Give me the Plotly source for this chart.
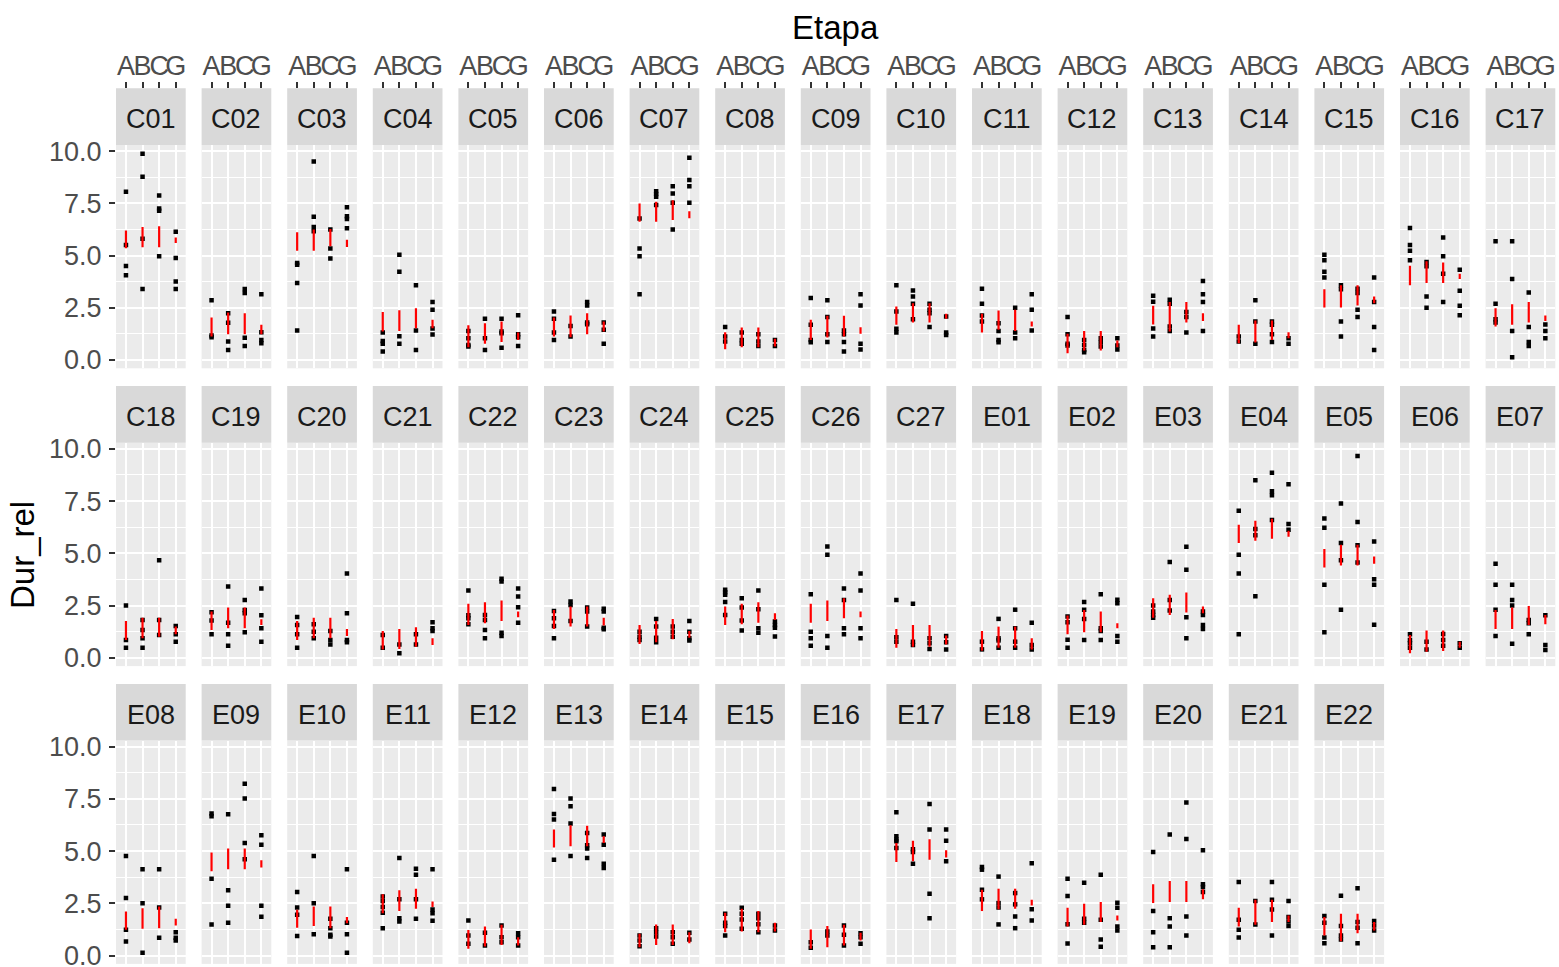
import plotly.graph_objects as go

W, H = 1559, 967

# ---- data -------------------------------------------------------------
panels = ["C01", "C02", "C03", "C04", "C05", "C06", "C07", "C08", "C09", "C10",
          "C11", "C12", "C13", "C14", "C15", "C16", "C17", "C18", "C19", "C20",
          "C21", "C22", "C23", "C24", "C25", "C26", "C27",
          "E01", "E02", "E03", "E04", "E05", "E06", "E07", "E08", "E09", "E10",
          "E11", "E12", "E13", "E14", "E15", "E16", "E17", "E18", "E19", "E20",
          "E21", "E22"]
etapas = ["A", "B", "C", "G"]
y_ticks = [0.0, 2.5, 5.0, 7.5, 10.0]
y_tick_text = ["0.0", "2.5", "5.0", "7.5", "10.0"]

# observed Dur_rel per panel, one list per Etapa
pts_A = [
    [8.05, 5.5, 4.5, 4.05], [2.86, 1.17, 1.09], [4.64, 4.56, 3.68, 1.41], [1.31, 0.91, 0.77, 0.4],
    [1.39, 1.04, 0.72, 0.64], [2.32, 1.97, 1.31, 0.96], [6.77, 5.33, 4.96, 3.15], [1.58, 1.12, 0.88],
    [2.96, 1.68, 0.96, 0.85], [3.58, 2.32, 1.49, 1.31], [3.41, 2.69, 2.13, 1.84], [2.05, 1.23, 0.77, 0.69],
    [3.07, 2.78, 1.5, 1.12], [1.12, 0.88], [5.04, 4.77, 4.22, 3.95], [6.32, 5.5, 5.23, 4.77],
    [5.68, 2.69, 1.95, 1.79], [2.5, 0.85, 0.48], [2.18, 1.78, 1.12], [1.95, 1.57, 1.12, 0.48],
    [1.09, 0.48], [3.22, 2.03, 1.89, 1.6], [2.24, 1.89, 1.52, 0.93], [1.25, 1.01, 0.85],
    [3.25, 3.14, 3.01, 2.67, 2.05], [3.04, 1.25, 0.93, 0.58], [2.77, 0.98, 0.77],
    [0.77, 0.4], [1.97, 1.7, 0.86, 0.48], [2.5, 2.21, 2.05, 1.92], [7.04, 4.93, 4.03, 1.12],
    [6.67, 6.22, 3.49, 1.22], [1.12, 0.85, 0.69, 0.48], [4.5, 3.49, 2.3, 1.04], [4.77, 2.75, 1.23, 0.67],
    [6.8, 6.67, 3.68, 1.49], [3.04, 2.3, 1.95, 0.93], [2.83, 2.61, 2.32, 2.05, 1.31], [1.68, 0.96, 0.56],
    [7.97, 6.78, 6.51, 4.59], [0.96, 0.72, 0.45], [2.0, 1.57, 1.41, 0.96], [0.64, 0.37],
    [6.86, 5.71, 5.55, 5.47, 5.15], [4.24, 4.11, 3.15, 2.69], [3.68, 2.85, 1.5, 0.58],
    [4.96, 2.13, 1.12, 0.4], [3.52, 1.71, 1.23, 0.86], [1.89, 1.57, 0.86, 0.59],
]
pts_B = [
    [9.87, 8.77, 5.8, 3.4], [2.24, 1.78, 0.88, 0.48], [9.5, 6.85, 6.37, 6.16], [5.04, 4.22, 1.14, 0.77],
    [1.97, 1.04, 0.48], [1.63, 1.12], [8.08, 7.95, 7.81, 7.42], [1.31, 0.96, 0.77],
    [2.86, 2.06, 1.23, 0.86], [3.33, 3.04, 2.69, 1.95], [1.76, 1.39, 0.96, 0.85], [0.96, 0.72, 0.48, 0.37],
    [2.88, 2.69, 1.6, 1.39], [2.86, 1.84, 0.77], [3.58, 3.39, 1.84, 1.12], [4.69, 4.48, 3.04, 2.5],
    [5.68, 3.87, 1.39, 0.13], [1.81, 1.33, 0.93, 0.48], [3.41, 1.68, 1.12, 0.58], [1.6, 1.25, 0.93],
    [0.64, 0.21], [2.05, 1.81, 1.33, 0.93], [2.69, 2.53, 1.76], [1.86, 1.49, 0.96, 0.74],
    [2.85, 2.4, 1.78, 1.3], [5.33, 4.93, 1.04, 0.48], [2.58, 0.77, 0.61],
    [1.86, 0.93, 0.83, 0.48], [2.67, 2.3, 1.86, 0.85], [4.58, 2.77, 2.26], [8.5, 6.16, 5.86, 2.94],
    [7.39, 5.49, 4.67, 2.3], [0.77, 0.4], [3.49, 2.77, 2.5, 0.67], [4.13, 2.5, 0.13],
    [6.77, 3.12, 2.38, 1.57], [4.77, 2.5, 1.02], [4.67, 2.69, 1.79, 1.63], [1.09, 0.48],
    [7.52, 7.15, 6.32, 4.77], [1.31, 1.12, 0.91], [2.29, 2.0, 1.73, 1.28], [1.15, 0.96],
    [5.09, 4.96, 4.4], [3.78, 2.51, 2.3, 1.49], [3.49, 1.76, 1.57],
    [5.79, 1.79, 1.39, 0.4], [2.61, 1.49], [2.86, 1.41, 0.96, 0.77],
]
pts_C = [
    [7.87, 7.25, 7.14, 4.96], [3.4, 3.2, 1.06, 0.67], [6.24, 5.34, 4.86], [3.58, 1.41, 0.48],
    [1.97, 1.36, 1.28, 0.58], [2.77, 2.61, 1.79, 1.71], [8.32, 7.97, 7.52, 6.24], [1.23, 0.88, 0.67],
    [1.41, 1.23, 0.86, 0.4], [2.69, 2.4, 2.24, 1.58], [2.5, 1.31, 1.04], [1.04, 0.85, 0.64],
    [2.3, 2.05, 1.31], [1.84, 1.68, 1.23, 0.86], [3.41, 3.2, 2.4, 2.05], [5.86, 4.96, 4.13, 2.77],
    [3.23, 1.58, 0.86, 0.67], [4.67, 1.81, 1.09], [2.77, 2.29, 2.13, 1.22], [1.28, 0.85, 0.64],
    [1.12, 0.64], [3.78, 3.65, 1.2, 1.04], [2.4, 2.21, 1.49], [1.49, 1.25, 1.01],
    [3.22, 2.32, 1.41, 1.2], [3.31, 2.77, 1.41, 1.12], [0.93, 0.69, 0.42],
    [2.3, 1.41, 0.77, 0.48], [3.04, 1.41, 1.28, 0.85], [5.31, 4.21, 1.94, 0.93], [8.86, 7.97, 7.78, 6.59],
    [9.66, 6.5, 5.39, 4.56], [1.14, 0.85, 0.58], [1.81, 1.65, 1.12], [4.13, 2.3, 0.85],
    [8.22, 7.52, 5.39, 4.61], [1.76, 1.31, 0.99, 0.91], [4.16, 3.87, 2.69, 1.76], [1.44, 0.88, 0.64],
    [5.87, 5.28, 5.12, 4.67], [1.12, 0.88, 0.56], [2.0, 1.79, 1.5, 1.12], [1.44, 0.99, 0.48],
    [7.25, 6.03, 2.96, 1.79], [2.99, 2.45, 1.87, 1.31], [3.87, 1.71, 0.77, 0.42],
    [7.33, 5.58, 1.87, 0.96], [3.52, 2.67, 2.21, 0.96], [3.22, 1.6, 1.33, 0.59],
]
pts_G = [
    [6.14, 4.88, 3.76, 3.4], [3.15, 1.33, 0.96, 0.8], [7.31, 6.88, 6.75, 6.3], [2.77, 2.4, 1.5, 1.22],
    [2.14, 1.23, 1.09, 0.67], [1.79, 1.44, 0.77], [9.68, 8.61, 8.32, 7.52], [0.96, 0.67],
    [3.15, 2.61, 0.77, 0.5], [2.08, 1.31, 1.2], [3.15, 2.4, 1.41], [1.04, 0.69, 0.5],
    [3.78, 3.15, 2.77, 1.39], [1.04, 0.77], [3.95, 2.77, 1.58, 0.48], [4.32, 3.31, 2.59, 2.14],
    [1.7, 1.39, 1.04], [1.52, 1.12, 0.77], [3.31, 2.03, 1.41, 0.77], [4.03, 2.13, 0.85, 0.74],
    [1.7, 1.41, 1.28], [3.31, 2.93, 2.42, 1.68], [2.34, 2.21, 1.44, 1.36], [1.76, 1.25, 0.93, 0.83],
    [1.73, 1.57, 1.44, 1.02], [4.03, 3.22, 1.41, 0.93], [1.04, 0.74, 0.4],
    [1.68, 0.61, 0.4], [2.78, 2.61, 1.04, 0.77], [2.21, 2.05, 1.57, 1.38], [8.3, 6.4, 6.13],
    [5.57, 3.76, 3.49, 1.58], [0.69, 0.48], [2.03, 0.61, 0.37], [1.12, 0.85, 0.72],
    [5.76, 5.3, 2.38, 1.86], [4.13, 1.57, 1.02, 0.13], [4.13, 2.21, 2.02, 1.66], [1.07, 0.88, 0.48],
    [5.79, 5.31, 4.4, 4.19], [1.09, 0.77], [1.44, 1.2], [1.07, 0.88, 0.56],
    [6.03, 5.5, 4.51], [4.42, 2.22, 1.68], [2.53, 2.29, 1.39, 1.2],
    [5.04, 3.41, 3.28, 3.04], [2.61, 1.84, 1.63, 1.41], [1.65, 1.44, 1.2],
]

# summary range (lower / upper end) per panel, in Etapa order A, B, C, G
seg_lo = [
    [5.35, 5.4, 5.4, 5.6], [1.12, 1.23, 1.23, 1.23], [5.23, 5.23, 5.44, 5.41], [1.36, 1.39, 1.52, 1.52],
    [0.61, 0.77, 0.86, 0.96], [1.12, 1.09, 1.23, 1.36], [6.61, 6.61, 6.7, 6.78], [0.51, 0.61, 0.61, 0.64],
    [0.96, 1.07, 1.12, 1.25], [1.68, 1.79, 1.79, 1.97], [1.31, 1.44, 1.39, 1.6], [0.32, 0.45, 0.45, 0.61],
    [1.7, 1.36, 1.79, 1.87], [0.8, 0.83, 0.96, 1.04], [2.51, 2.51, 2.61, 2.72], [3.58, 3.68, 3.68, 3.87],
    [1.6, 1.68, 1.79, 1.87], [0.85, 0.93, 1.01, 1.12], [1.33, 1.41, 1.41, 1.57], [0.85, 0.93, 0.93, 1.04],
    [0.4, 0.42, 0.53, 0.61], [1.57, 1.65, 1.76, 1.94], [1.38, 1.49, 1.49, 1.54], [0.66, 0.74, 0.88, 0.96],
    [1.57, 1.6, 1.68, 1.81], [1.68, 1.76, 1.89, 1.94], [0.48, 0.53, 0.53, 0.64],
    [0.34, 0.48, 0.48, 0.4], [1.12, 1.22, 1.22, 1.41], [1.92, 2.05, 2.16, 2.13], [5.49, 5.6, 5.7, 5.79],
    [4.32, 4.42, 4.42, 4.5], [0.21, 0.29, 0.32, 0.48], [1.38, 1.38, 1.57, 1.6], [1.23, 1.28, 1.31, 1.44],
    [4.03, 4.13, 4.13, 4.21], [1.33, 1.42, 1.31, 1.55], [2.03, 2.13, 2.24, 2.32], [0.32, 0.43, 0.51, 0.48],
    [5.17, 5.23, 5.23, 5.39], [0.4, 0.51, 0.51, 0.59], [1.12, 1.15, 1.12, 1.15], [0.32, 0.4, 0.48, 0.72],
    [4.48, 4.51, 4.59, 4.69], [2.13, 2.21, 2.24, 2.4], [1.39, 1.47, 1.6, 1.68],
    [2.51, 2.56, 2.56, 2.69], [1.39, 1.47, 1.6, 1.6], [0.96, 0.69, 1.07, 1.2],
]
seg_hi = [
    [6.2, 6.37, 6.4, 5.86], [2.03, 2.27, 2.24, 1.68], [6.11, 6.24, 6.27, 5.76], [2.29, 2.38, 2.48, 1.92],
    [1.66, 1.76, 1.84, 1.31], [2.03, 2.13, 2.24, 1.84], [7.49, 7.57, 7.65, 7.12], [1.33, 1.55, 1.55, 1.01],
    [1.92, 2.11, 2.11, 1.57], [2.56, 2.72, 2.72, 2.21], [2.21, 2.37, 2.4, 1.84], [1.25, 1.39, 1.39, 0.93],
    [2.59, 2.77, 2.77, 2.24], [1.68, 1.89, 1.89, 1.33], [3.39, 3.57, 3.57, 3.04], [4.51, 4.72, 4.67, 4.13],
    [2.48, 2.67, 2.77, 2.13], [1.76, 1.92, 1.92, 1.49], [2.21, 2.4, 2.4, 1.84], [1.76, 1.92, 1.92, 1.38],
    [1.28, 1.38, 1.46, 0.93], [2.58, 2.66, 2.74, 2.21], [2.29, 2.45, 2.45, 1.92], [1.57, 1.76, 1.86, 1.28],
    [2.45, 2.58, 2.66, 2.13], [2.58, 2.74, 2.85, 2.21], [1.38, 1.57, 1.57, 1.06],
    [1.28, 1.49, 1.49, 0.93], [2.02, 2.29, 2.21, 1.65], [2.85, 3.01, 3.12, 2.45], [6.37, 6.56, 6.66, 6.08],
    [5.2, 5.41, 5.41, 4.85], [1.09, 1.3, 1.3, 0.77], [2.29, 2.4, 2.48, 2.05], [2.11, 2.27, 2.35, 1.76],
    [4.93, 5.12, 5.12, 4.56], [2.19, 2.35, 2.35, 1.84], [2.93, 3.12, 3.2, 2.59], [1.22, 1.39, 1.47, 0.88],
    [6.03, 6.24, 6.21, 5.71], [1.04, 1.49, 1.49, 1.12], [2.05, 2.24, 2.13, 1.57], [1.25, 1.41, 1.47, 1.09],
    [5.39, 5.5, 5.57, 5.04], [3.15, 3.2, 3.2, 2.67], [2.29, 2.48, 2.56, 1.92],
    [3.41, 3.57, 3.57, 3.17], [2.29, 2.67, 2.67, 1.92], [1.84, 2.0, 2.0, 1.6],
]

# ---- facet geometry (pixels) ------------------------------------------
NCOL = 17
LEFT = 116.0
PITCH_X = 85.6
PANEL_W = 69.7
STRIP_TOP = 88.3
STRIP_H = 56.7
PANEL_H = 223.3
PITCH_Y = 297.8
Y_RANGE = [-0.40, 10.29]
X_RANGE = [0.4, 4.6]

FONT = "Liberation Sans, Arial, sans-serif"
BG = "#EBEBEB"
STRIP_BG = "#D9D9D9"


def px_x(v):
    return v / W


def px_y(v):
    return 1 - v / H


fig = go.Figure()
layout = dict(
    template="none",
    width=W, height=H, autosize=False,
    margin=dict(l=0, r=0, t=0, b=0, pad=0),
    paper_bgcolor="white", plot_bgcolor=BG,
    showlegend=False,
    font=dict(family=FONT),
)
shapes, annotations = [], []
point_sets = [pts_A, pts_B, pts_C, pts_G]

for k, name in enumerate(panels):
    r, c = divmod(k, NCOL)
    n = k + 1
    xname = "x" if n == 1 else f"x{n}"
    yname = "y" if n == 1 else f"y{n}"
    xkey = "xaxis" if n == 1 else f"xaxis{n}"
    ykey = "yaxis" if n == 1 else f"yaxis{n}"

    x0 = LEFT + c * PITCH_X
    x1 = x0 + PANEL_W
    s_top = STRIP_TOP + r * PITCH_Y
    p_top = s_top + STRIP_H
    p_bot = p_top + PANEL_H

    # individual observations
    xs, ys = [], []
    for j, series in enumerate(point_sets):
        for v in series[k]:
            xs.append(j + 1)
            ys.append(v)
    fig.add_trace(go.Scatter(
        x=xs, y=ys, mode="markers", xaxis=xname, yaxis=yname,
        marker=dict(symbol="square", size=4.5, color="black", line=dict(width=0)),
        hoverinfo="skip",
    ))

    # summary ranges
    sx, sy = [], []
    for j in range(len(etapas)):
        sx += [j + 1, j + 1, None]
        sy += [seg_lo[k][j], seg_hi[k][j], None]
    fig.add_trace(go.Scatter(
        x=sx, y=sy, mode="lines", xaxis=xname, yaxis=yname,
        line=dict(color="#FF0000", width=2.2), hoverinfo="skip",
    ))

    xa = dict(
        domain=[px_x(x0), px_x(x1)], range=X_RANGE, automargin=False,
        tickmode="array", tickvals=[1, 2, 3, 4], ticktext=etapas, tickangle=0,
        showgrid=True, gridcolor="white", gridwidth=2,
        zeroline=False, showline=False, fixedrange=True,
    )
    if r == 0:
        xa.update(anchor="free", position=px_y(s_top), side="top",
                  ticks="outside", ticklen=6, tickwidth=1.5, tickcolor="#333333",
                  showticklabels=True, ticklabelstandoff=-3,
                  ticklabeloverflow="allow",
                  tickfont=dict(size=27, color="#4D4D4D", family=FONT))
    else:
        xa.update(anchor=yname, showticklabels=False, ticks="")
    layout[xkey] = xa

    ya = dict(
        domain=[px_y(p_bot), px_y(p_top)], range=Y_RANGE, anchor=xname, automargin=False,
        tickmode="array", tickvals=y_ticks, ticktext=y_tick_text,
        showgrid=True, gridcolor="white", gridwidth=2,
        minor=dict(tickmode="array", tickvals=[1.25, 3.75, 6.25, 8.75],
                   showgrid=True, gridcolor="white", gridwidth=1.1, ticks=""),
        zeroline=False, showline=False, fixedrange=True,
    )
    if c == 0:
        ya.update(ticks="outside", ticklen=6, tickwidth=1.5, tickcolor="#333333",
                  showticklabels=True, ticklabelstandoff=2,
                  ticklabeloverflow="allow",
                  tickfont=dict(size=27, color="#4D4D4D", family=FONT))
    else:
        ya.update(showticklabels=False, ticks="")
    layout[ykey] = ya

    # facet strip
    shapes.append(dict(
        type="rect", xref="paper", yref="paper",
        x0=px_x(x0), x1=px_x(x1), y0=px_y(p_top), y1=px_y(s_top),
        fillcolor=STRIP_BG, line=dict(width=0), layer="below",
    ))
    annotations.append(dict(
        text=name, xref="paper", yref="paper",
        x=px_x((x0 + x1) / 2), y=px_y(s_top + STRIP_H / 2 + 2.5),
        xanchor="center", yanchor="middle", showarrow=False,
        font=dict(size=27, color="#1A1A1A", family=FONT),
    ))

# axis titles
annotations.append(dict(
    text="Etapa", xref="paper", yref="paper",
    x=px_x(LEFT + (16 * PITCH_X + PANEL_W) / 2), y=px_y(27),
    xanchor="center", yanchor="middle", showarrow=False,
    font=dict(size=33, color="black", family=FONT),
))
annotations.append(dict(
    text="Dur_rel", xref="paper", yref="paper",
    x=px_x(22), y=px_y(555), textangle=-90,
    xanchor="center", yanchor="middle", showarrow=False,
    font=dict(size=33, color="black", family=FONT),
))

layout["shapes"] = shapes
layout["annotations"] = annotations
fig.update_layout(**layout)
fig.write_html("out.html")
